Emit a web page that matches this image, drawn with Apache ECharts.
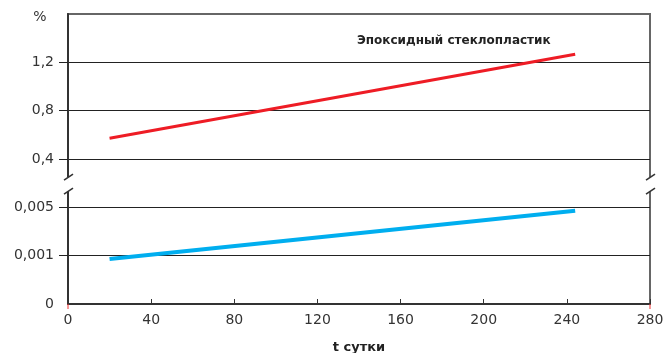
<!DOCTYPE html>
<html>
<head>
<meta charset="utf-8">
<script src="https://cdn.jsdelivr.net/npm/echarts@6/dist/echarts.min.js"></script>
<style>
    html, body { margin: 0; padding: 0; background: #fff; }
    #main { width: 671px; height: 353px; }
</style>
</head>
<body>
<div id="main"></div>
<script>
    // данные
    var days = [20, 244];
    var epoxyPct = [0.572, 1.267];      // верхняя часть шкалы, %
    var lowPct = [0.00093, 0.00472];    // нижняя часть шкалы, %
    var xTicks = [0, 40, 80, 120, 160, 200, 240, 280];
    var yTickLabels = ['0', '0,001', '0,005', '0,4', '0,8', '1,2', ''];

    // разорванная ось: 0 -> 0, 0,001 -> 1, 0,005 -> 2, 0,4 -> 3, 0,8 -> 4, 1,2 -> 5
    function toAxis(v) {
        if (v <= 0.001) return v / 0.001;
        if (v <= 0.005) return 1 + (v - 0.001) / 0.004;
        return 2 + v / 0.4;
    }
    function pairs(xs, ys) {
        var out = [];
        for (var i = 0; i < xs.length; i++) out.push([xs[i], toAxis(ys[i])]);
        return out;
    }

    var font = 'DejaVu Sans';
    var myChart = echarts.init(document.getElementById('main'));
    var option = {
        animation: false,
        textStyle: { fontFamily: font },
        title: {
            text: 'Эпоксидный стеклопластик',
            left: 352, top: 30,
            textStyle: { fontFamily: font, fontSize: 12, fontWeight: 'bold', color: '#222' }
        },
        grid: {
            left: 68, right: 21, top: 14, bottom: 49,
            outerBoundsMode: 'none', containLabel: false,
            show: true, borderWidth: 2, borderColor: '#666'
        },
        xAxis: {
            type: 'value', min: 0, max: 280, interval: 40,
            name: 't сутки', nameLocation: 'middle', nameGap: 37,
            nameTextStyle: { fontFamily: font, fontSize: 13, fontWeight: 'bold', color: '#222' },
            axisLine: { lineStyle: { color: '#333', width: 2 } },
            axisTick: { inside: true, length: 5, lineStyle: { color: '#333' } },
            axisLabel: { margin: 9, fontSize: 14, color: '#333', fontFamily: font,
                formatter: function (v) { return xTicks.indexOf(v) >= 0 ? String(v) : ''; } },
            splitLine: { show: false }
        },
        yAxis: {
            type: 'value', min: 0, max: 6, interval: 1,
            axisLine: { show: true, lineStyle: { color: '#333', width: 2 } },
            axisTick: { show: true, length: 9, customValues: [1, 2, 3, 4, 5], lineStyle: { color: '#222' } },
            axisLabel: { margin: 14, fontSize: 14, color: '#333', fontFamily: font,
                formatter: function (v) { return yTickLabels[Math.round(v)] || ''; } },
            splitLine: { lineStyle: { color: '#222', width: 1 } }
        },
        series: [
            {
                name: 'Эпоксидный стеклопластик', type: 'line', symbol: 'none',
                lineStyle: { color: '#ee1c25', width: 3 },
                data: pairs(days, epoxyPct)
            },
            {
                name: 'низ', type: 'line', symbol: 'none',
                lineStyle: { color: '#00aeef', width: 4 },
                data: pairs(days, lowPct)
            }
        ]
    };
    myChart.setOption(option);

    // знаки разрыва оси и прочие мелочи
    var xl = myChart.convertToPixel({ xAxisIndex: 0 }, 0);
    var xr = myChart.convertToPixel({ xAxisIndex: 0 }, 280);
    var yb = myChart.convertToPixel({ yAxisIndex: 0 }, 2.48);
    var y0 = myChart.convertToPixel({ yAxisIndex: 0 }, 0);
    var yTop = myChart.convertToPixel({ yAxisIndex: 0 }, 6);
    function breakMark(x) {
        return [
            { type: 'rect', z: 100, shape: { x: x - 4, y: yb - 7, width: 8, height: 14 }, style: { fill: '#fff' } },
            { type: 'line', z: 101, shape: { x1: x - 4, y1: yb - 4, x2: x + 5, y2: yb - 10 }, style: { stroke: '#333', lineWidth: 1.5 } },
            { type: 'line', z: 101, shape: { x1: x - 4, y1: yb + 10, x2: x + 5, y2: yb + 4 }, style: { stroke: '#333', lineWidth: 1.5 } }
        ];
    }
    var g = [].concat(breakMark(xl), breakMark(xr));
    g.push({ type: 'line', z: 101, shape: { x1: xl, y1: y0, x2: xl, y2: y0 + 5 }, style: { stroke: '#e33', lineWidth: 1 } });
    g.push({ type: 'line', z: 101, shape: { x1: xr, y1: y0, x2: xr, y2: y0 + 5 }, style: { stroke: '#e33', lineWidth: 1 } });
    g.push({ type: 'text', z: 101, x: xl - 28, y: yTop - 4,
        style: { text: '%', font: '14px "DejaVu Sans"', fill: '#333', textAlign: 'center' } });
    myChart.setOption({ graphic: g });
</script>
</body>
</html>
